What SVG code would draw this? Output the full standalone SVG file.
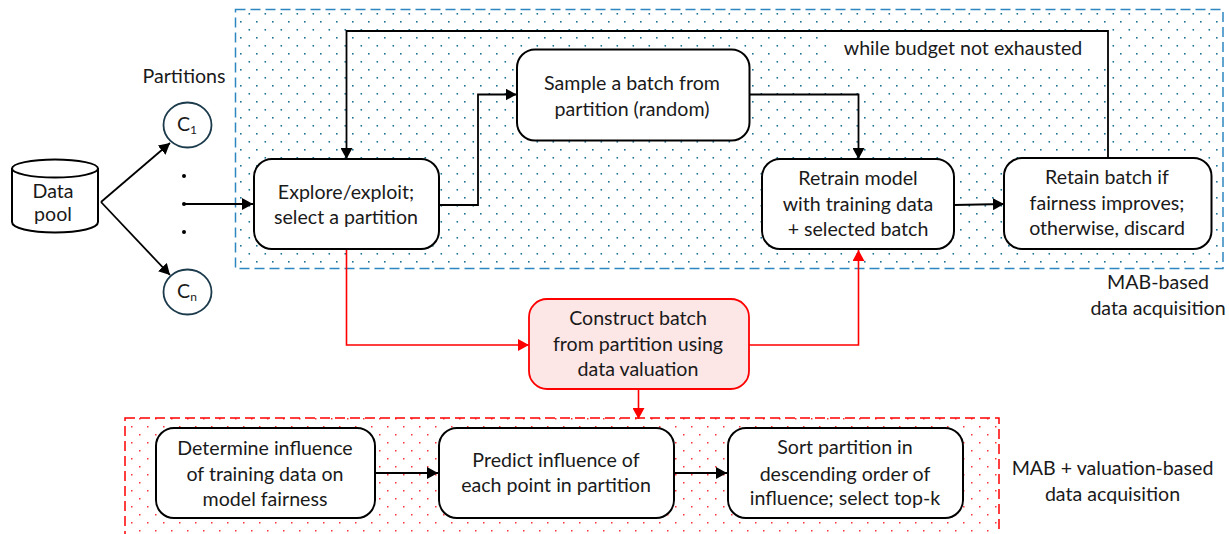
<svg xmlns="http://www.w3.org/2000/svg" width="1229" height="534" viewBox="0 0 1229 534">
<style>
text{font-family:"Lato","Carlito","Liberation Sans",sans-serif;font-size:19.6px;fill:#1a1a1a;text-anchor:middle}
.box{fill:#fff;stroke:#000;stroke-width:2}
.c{fill:none;stroke:#000;stroke-width:1.8}
.r{fill:none;stroke:#f00;stroke-width:1.6}
.sub{font-size:12px}
.db{fill:#1f7394}
.dr{fill:#f33}
</style>
<defs>
<pattern id="pb" width="16" height="16" patternUnits="userSpaceOnUse" x="240" y="5"><rect x="0" y="0" width="1.600" height="1.600" class="db"/><rect x="8.500" y="8" width="1.600" height="1.600" class="db"/></pattern>
<pattern id="pr" width="16" height="16" patternUnits="userSpaceOnUse" x="147" y="426"><rect x="0" y="0" width="1.500" height="1.500" class="dr"/><rect x="8" y="8" width="1.500" height="1.500" class="dr"/></pattern>
<marker id="a" markerWidth="12" markerHeight="12" refX="11" refY="6" orient="auto" markerUnits="userSpaceOnUse"><path d="M0 0L11 6L0 12z" fill="#000"/></marker>
<marker id="ar" markerWidth="12" markerHeight="12" refX="11" refY="6" orient="auto" markerUnits="userSpaceOnUse"><path d="M0 0L11 6L0 12z" fill="#f00"/></marker>
</defs>
<g id="region-mab"><rect x="235.500" y="9.500" width="987.500" height="259" fill="url(#pb)" stroke="#2e86c1" stroke-width="1.500" stroke-dasharray="10 5"/></g>
<g id="region-val"><rect x="125" y="418" width="874" height="125" fill="url(#pr)" stroke="#f00" stroke-width="1.500" stroke-dasharray="10 5"/></g>
<g id="connectors">
<path class="c" d="M101 202L170 143" marker-end="url(#a)"/>
<path class="c" d="M101 202L170 275" marker-end="url(#a)"/>
<path class="c" d="M184 204H253" marker-end="url(#a)"/>
<path class="c" d="M1108 158V31H346.500V159" marker-end="url(#a)"/>
<path class="c" d="M439 205H478V94.500H516.500" marker-end="url(#a)"/>
<path class="c" d="M749 94.500H858.500V159" marker-end="url(#a)"/>
<path class="c" d="M954 205L1004 204" marker-end="url(#a)"/>
<path class="c" d="M376 473H438" marker-end="url(#a)"/>
<path class="c" d="M675 473H727" marker-end="url(#a)"/>
<path class="r" d="M346.500 249V345H529" marker-end="url(#ar)"/>
<path class="r" d="M749 345H858.500V250" marker-end="url(#ar)"/>
<path class="r" d="M638.500 390V419" marker-end="url(#ar)"/>
</g>
<g id="datapool"><path d="M12 168V222C12 228 30 232.500 55 232.500C80 232.500 98 228 98 222V168" fill="#fff" stroke="#000" stroke-width="2"/><ellipse cx="55" cy="168.500" rx="43" ry="9" fill="#fff" stroke="#000" stroke-width="2"/><text x="53" y="197.500">Data</text><text x="53" y="220.500">pool</text></g>
<g id="partitions-label"><text x="184" y="83">Partitions</text></g>
<g id="c1"><ellipse cx="187.500" cy="125" rx="24" ry="22.500" fill="#fff" stroke="#1b3a4b" stroke-width="1.800"/><text x="187" y="131">C<tspan class="sub" dy="3">1</tspan></text></g>
<g id="cn"><ellipse cx="187.500" cy="292" rx="24" ry="22.500" fill="#fff" stroke="#1b3a4b" stroke-width="1.800"/><text x="187" y="298">C<tspan class="sub" dy="3">n</tspan></text></g>
<g id="dots"><circle cx="184" cy="176" r="2" fill="#000"/><circle cx="184" cy="204" r="2" fill="#000"/><circle cx="184" cy="232" r="2" fill="#000"/></g>
<g id="explore"><rect class="box" x="254" y="159" width="185" height="90" rx="18"/><text x="346" y="198.500">Explore/exploit;</text><text x="346" y="224">select a partition</text></g>
<g id="sample"><rect class="box" x="517" y="49.500" width="232.500" height="91" rx="18"/><text x="632" y="89.500">Sample a batch from</text><text x="632" y="116">partition (random)</text></g>
<g id="retrain"><rect class="box" x="762" y="159" width="192" height="90" rx="18"/><text x="858" y="185">Retrain model</text><text x="858" y="211">with training data</text><text x="858" y="236">+ selected batch</text></g>
<g id="retain"><rect class="box" x="1004" y="158" width="207.500" height="91" rx="18"/><text x="1107" y="184">Retain batch if</text><text x="1107" y="210">fairness improves;</text><text x="1107" y="235">otherwise, discard</text></g>
<g id="while-label"><rect x="828" y="32.500" width="278" height="31" fill="#fff"/><text x="963" y="55">while budget not exhausted</text></g>
<g id="mab-label"><text x="1158" y="289">MAB-based</text><text x="1158" y="315">data acquisition</text></g>
<g id="construct"><rect x="529" y="299" width="220" height="90" rx="18" fill="#fde6e6" stroke="#f00" stroke-width="1.800"/><text x="638" y="325">Construct batch</text><text x="638" y="351">from partition using</text><text x="638" y="376">data valuation</text></g>
<g id="determine"><rect class="box" x="156" y="428" width="219" height="90" rx="18"/><text x="265" y="455">Determine influence</text><text x="265" y="481">of training data on</text><text x="265" y="505.500">model fairness</text></g>
<g id="predict"><rect class="box" x="439" y="428" width="235" height="90" rx="18"/><text x="556" y="467">Predict influence of</text><text x="556" y="492">each point in partition</text></g>
<g id="sort"><rect class="box" x="728" y="428" width="235" height="90" rx="18"/><text x="845" y="454">Sort partition in</text><text x="845" y="481">descending order of</text><text x="845" y="505">influence; select top-k</text></g>
<g id="val-label"><text x="1112.500" y="475">MAB + valuation-based</text><text x="1112.500" y="501">data acquisition</text></g>
</svg>
